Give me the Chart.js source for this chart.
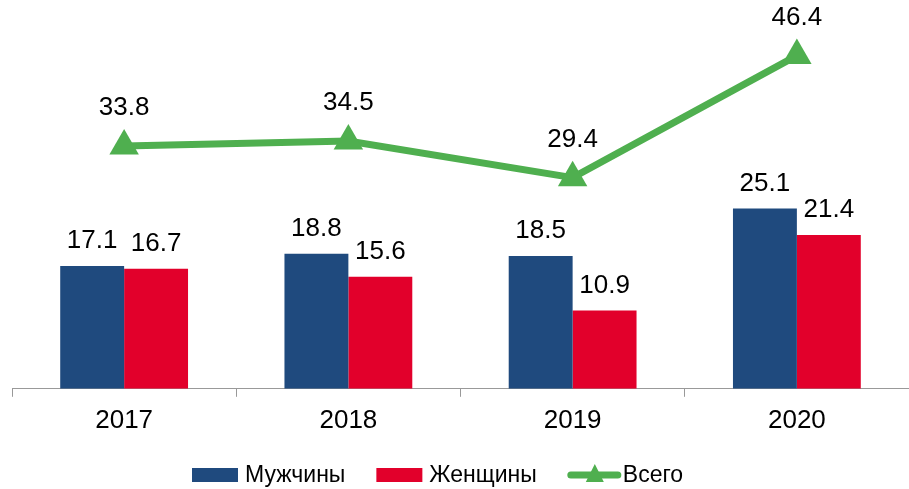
<!DOCTYPE html>
<html>
<head>
<meta charset="utf-8">
<script src="https://cdn.jsdelivr.net/npm/chart.js@4.4.1/dist/chart.umd.min.js"></script>
<style>
  html, body { margin: 0; padding: 0; background: #fff; }
  #wrap { width: 909px; height: 489px; position: relative; }
</style>
</head>
<body>
<div id="wrap"><canvas id="mainChart"></canvas></div>
<script>
// Chart data
const years = ['2017', '2018', '2019', '2020'];
const men = [17.1, 18.8, 18.5, 25.1];
const women = [16.7, 15.6, 10.9, 21.4];
const total = [33.8, 34.5, 29.4, 46.4];

const BLUE = '#1F4A7E';
const RED = '#E2002B';
const GREEN = '#4FAF4F';
const FONT = '"Liberation Sans", Arial, sans-serif';

// Value labels above bars and points
const valueLabels = {
    id: 'valueLabels',
    afterDatasetsDraw(chart) {
        const ctx = chart.ctx;
        ctx.save();
        ctx.font = '26px ' + FONT;
        ctx.fillStyle = '#000';
        ctx.textAlign = 'center';
        ctx.textBaseline = 'alphabetic';
        chart.data.datasets.forEach((ds, i) => {
            const meta = chart.getDatasetMeta(i);
            meta.data.forEach((el, j) => {
                const off = ds.type === 'line' ? 31 : 18;
                ctx.fillText(ds.data[j].toFixed(1), el.x, el.y - off);
            });
        });
        ctx.restore();
    }
};

// Legend drawn at the bottom (line item has marker in the middle)
const bottomLegend = {
    id: 'bottomLegend',
    afterDraw(chart) {
        const ctx = chart.ctx;
        ctx.save();
        ctx.font = '23px ' + FONT;
        ctx.textBaseline = 'middle';
        ctx.fillStyle = '#000';
        const cy = 475;
        let x = 192;
        chart.data.datasets.forEach((ds, i) => {
            if (ds.type === 'line') {
                ctx.strokeStyle = GREEN;
                ctx.lineWidth = 7;
                ctx.lineCap = 'round';
                ctx.beginPath();
                ctx.moveTo(x + 3, cy);
                ctx.lineTo(x + 50, cy);
                ctx.stroke();
                ctx.fillStyle = GREEN;
                ctx.beginPath();
                ctx.moveTo(x + 27, cy - 11);
                ctx.lineTo(x + 36, cy + 7);
                ctx.lineTo(x + 18, cy + 7);
                ctx.closePath();
                ctx.fill();
                x += 55;
            } else {
                ctx.fillStyle = ds.backgroundColor;
                ctx.fillRect(x, cy - 7, 46, 14);
                x += 53;
            }
            ctx.fillStyle = '#000';
            ctx.fillText(ds.label, x, cy + 1);
            x += ctx.measureText(ds.label).width + 31;
        });
        ctx.restore();
    }
};

new Chart(document.getElementById('mainChart'), {
    type: 'bar',
    data: {
        labels: years,
        datasets: [
            {
                label: 'Мужчины',
                data: men,
                backgroundColor: BLUE,
                barPercentage: 1,
                categoryPercentage: 0.57,
                order: 2
            },
            {
                label: 'Женщины',
                data: women,
                backgroundColor: RED,
                barPercentage: 1,
                categoryPercentage: 0.57,
                order: 2
            },
            {
                type: 'line',
                label: 'Всего',
                data: total,
                borderColor: GREEN,
                backgroundColor: GREEN,
                borderWidth: 7,
                pointStyle: 'triangle',
                pointRadius: 17,
                pointHoverRadius: 17,
                pointBorderWidth: 0,
                tension: 0,
                order: 1
            }
        ]
    },
    options: {
        responsive: true,
        maintainAspectRatio: false,
        animation: false,
        layout: { autoPadding: false, padding: { left: 12, right: -3, top: 1, bottom: 45 } },
        plugins: {
            legend: { display: false },
            tooltip: { enabled: false }
        },
        scales: {
            x: {
                grid: {
                    display: true,
                    drawOnChartArea: false,
                    drawTicks: true,
                    tickLength: 8,
                    color: '#999',
                    offset: true
                },
                border: { display: true, color: '#999', width: 1 },
                ticks: {
                    color: '#000',
                    font: { family: FONT, size: 26 },
                    padding: 8
                }
            },
            y: {
                display: false,
                min: 0,
                max: 54
            }
        }
    },
    plugins: [valueLabels, bottomLegend]
});
</script>
</body>
</html>
